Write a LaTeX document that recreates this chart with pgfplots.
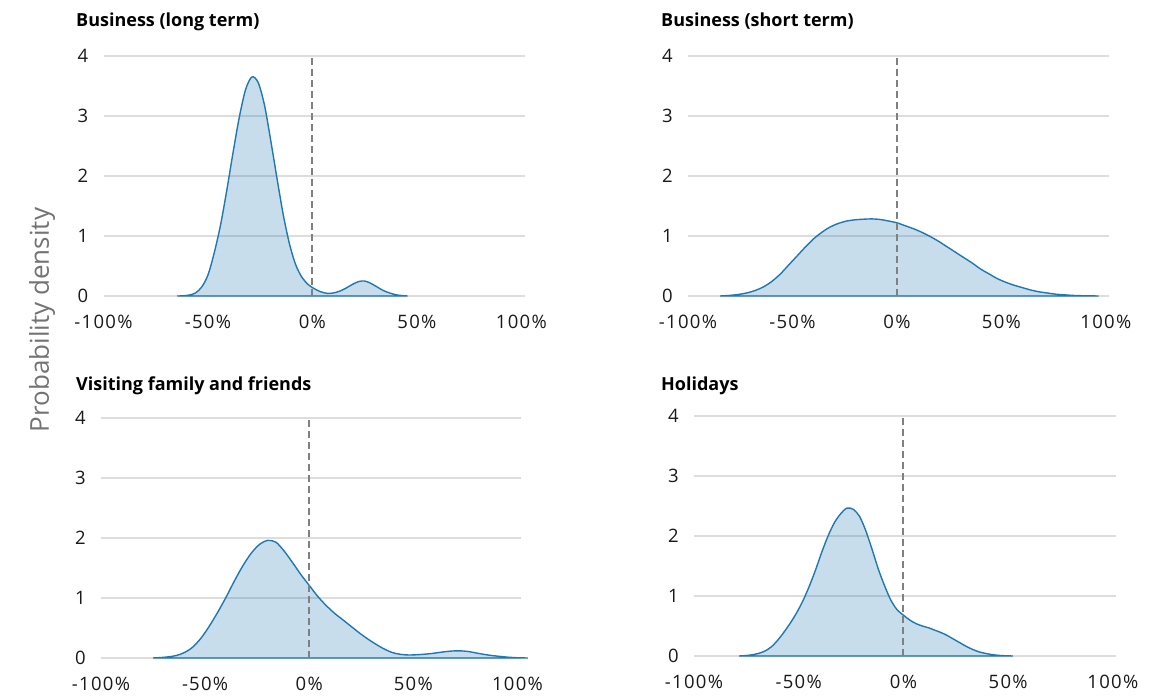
\documentclass[border=0pt]{standalone}
\usepackage{fontspec}
\setmainfont{Open Sans}
\newfontfamily\tickfont[LetterSpace=7]{Open Sans}
\usepackage{pgfplots}
\usepackage{pgfplotstable}
\pgfplotsset{compat=1.18}

\definecolor{kde}{RGB}{31,119,180}
\definecolor{gridgray}{RGB}{221,221,221}
\definecolor{zeroline}{RGB}{128,128,128}
\definecolor{labelgray}{RGB}{115,115,115}

% Kernel density estimates: change (%) versus density
\pgfplotstableread{
x y
-64.7 0.00
-62 0.003
-59 0.015
-56 0.05
-53 0.15
-50 0.35
-47 0.72
-44 1.18
-41 1.76
-38 2.39
-35 2.98
-32 3.44
-29 3.65
-26 3.56
-23 3.19
-20 2.60
-17 1.97
-14 1.36
-11 0.87
-8 0.52
-5 0.31
-2 0.19
1 0.12
4 0.07
7 0.045
10 0.05
13 0.08
16 0.13
19 0.19
22 0.24
25 0.25
28 0.21
31 0.15
34 0.09
37 0.05
40 0.02
43 0.006
45.5 0.00
}\longterm

\pgfplotstableread{
x y
-84.6 0.00
-80 0.01
-76 0.025
-72 0.05
-68 0.09
-64 0.15
-60 0.24
-56 0.36
-52 0.51
-48 0.66
-44 0.81
-40 0.95
-36 1.06
-32 1.15
-28 1.21
-24 1.25
-20 1.27
-16 1.28
-12 1.285
-8 1.275
-4 1.25
0 1.22
4 1.17
8 1.12
12 1.06
16 0.99
20 0.91
24 0.82
28 0.73
32 0.64
36 0.55
40 0.45
44 0.37
48 0.29
52 0.23
56 0.18
60 0.14
64 0.10
68 0.07
72 0.05
76 0.03
80 0.02
84 0.01
88 0.005
96.5 0.00
}\shortterm

\pgfplotstableread{
x y
-75 0.00
-72 0.006
-68 0.018
-64 0.04
-60 0.09
-56 0.18
-52 0.33
-48 0.53
-44 0.76
-40 1.01
-36 1.28
-32 1.53
-28 1.74
-24 1.89
-20 1.96
-16 1.93
-12 1.78
-8 1.59
-4 1.39
0 1.21
4 1.03
8 0.88
12 0.75
16 0.64
20 0.53
24 0.42
28 0.32
32 0.23
36 0.15
40 0.09
44 0.06
48 0.05
52 0.055
56 0.065
60 0.08
64 0.10
68 0.115
72 0.12
76 0.11
80 0.085
84 0.06
88 0.04
92 0.025
96 0.012
100 0.004
105 0.00
}\family

\pgfplotstableread{
x y
-78.4 0.00
-75 0.008
-72 0.022
-69 0.045
-66 0.085
-63 0.155
-60 0.265
-57 0.40
-54 0.55
-51 0.72
-48 0.92
-45 1.16
-42 1.43
-39 1.73
-36 2.00
-33 2.22
-30 2.37
-27 2.465
-24 2.445
-21 2.33
-18 2.09
-15 1.78
-12 1.45
-9 1.17
-6 0.93
-3 0.77
0 0.68
3 0.60
6 0.54
9 0.50
12 0.47
15 0.43
18 0.39
21 0.34
24 0.28
27 0.22
30 0.16
33 0.11
36 0.07
39 0.045
42 0.025
45 0.012
48 0.005
52.2 0.00
}\holidays

\pgfplotsset{
  panel/.style={
    scale only axis,
    anchor=south west,
    height=240pt,
    xmin=-100, xmax=101.5,
    ymin=0, ymax=4,
    clip=false,
    axis line style={draw=none},
    tick style={draw=none},
    major tick length=0pt,
    ymajorgrids,
    grid style={line width=1.6pt, gridgray},
    xtick={-100,-50,0,50,100},
    xticklabels={-100\%,-50\%,0\%,50\%,100\%},
    ytick={0,1,2,3,4},
    yticklabels={0,1,2,3,4},
    tick label style={font=\tickfont\fontsize{18.5}{20}\selectfont, text=black!90, inner sep=0pt},
    xticklabel style={anchor=north, yshift=-19pt},
    yticklabel style={anchor=east, xshift=-15pt},
  },
  kdeline/.style={draw=kde, line width=1.4pt, smooth, tension=0.5,
    fill=kde, fill opacity=0.25, draw opacity=1},
  zerodash/.style={draw=zeroline, line width=2pt, dash pattern=on 7pt off 4pt},
}

\begin{document}
\begin{tikzpicture}
\useasboundingbox (0pt,0pt) rectangle (1166pt,697pt);

% Business (long term)
\begin{axis}[panel, at={(103.5pt,401pt)}, width=421pt]
  \addplot[kdeline] table[x=x,y=y]{\longterm} \closedcycle;
  \addplot[zerodash] coordinates {(0,0) (0,4)};
\end{axis}

% Business (short term)
\begin{axis}[panel, at={(688pt,401pt)}, width=421pt]
  \addplot[kdeline] table[x=x,y=y]{\shortterm} \closedcycle;
  \addplot[zerodash] coordinates {(0,0) (0,4)};
\end{axis}

% Visiting family and friends
\begin{axis}[panel, at={(101pt,39pt)}, width=419.6pt]
  \addplot[kdeline] table[x=x,y=y]{\family} \closedcycle;
  \addplot[zerodash] coordinates {(0,0) (0,4)};
\end{axis}

% Holidays
\begin{axis}[panel, at={(694pt,41pt)}, width=422pt]
  \addplot[kdeline] table[x=x,y=y]{\holidays} \closedcycle;
  \addplot[zerodash] coordinates {(0,0) (0,4)};
\end{axis}

% Panel titles
\begin{scope}[every node/.style={anchor=base west, inner sep=0pt,
    font=\fontsize{18}{20}\selectfont\bfseries}]
  \node at (76pt,670.3pt) {Business (long term)};
  \node at (661pt,670.3pt) {Business (short term)};
  \node at (76pt,306.3pt) {Visiting family and friends};
  \node at (661pt,306.3pt) {Holidays};
\end{scope}

% Shared y label
\node[rotate=90, text=labelgray, font=\fontsize{26}{28}\selectfont]
  at (42pt,377pt) {Probability density};
\end{tikzpicture}
\end{document}
